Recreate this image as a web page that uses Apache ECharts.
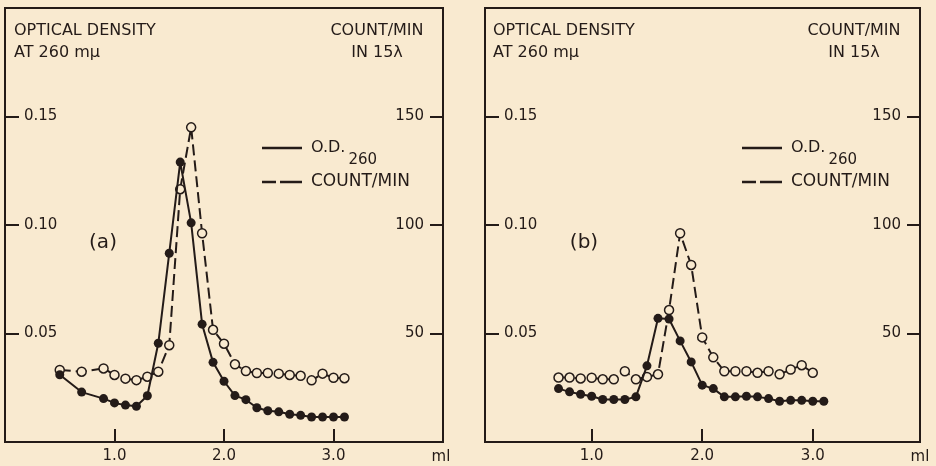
<!DOCTYPE html>
<html>
<head>
<meta charset="utf-8">
<script src="https://cdn.jsdelivr.net/npm/echarts@6/dist/echarts.min.js"></script>
<style>
  html, body { margin: 0; padding: 0; background: #f9ead0; }
  #chart { width: 936px; height: 466px; }
</style>
</head>
<body>
<div id="chart"></div>
<script>
// volume eluted (ml)
const mlA = [0.5, 0.7, 0.9, 1.0, 1.1, 1.2, 1.3, 1.4, 1.5, 1.6, 1.7, 1.8, 1.9, 2.0, 2.1, 2.2, 2.3, 2.4, 2.5, 2.6, 2.7, 2.8, 2.9, 3.0, 3.1];
const mlB = [0.7, 0.8, 0.9, 1.0, 1.1, 1.2, 1.3, 1.4, 1.5, 1.6, 1.7, 1.8, 1.9, 2.0, 2.1, 2.2, 2.3, 2.4, 2.5, 2.6, 2.7, 2.8, 2.9, 3.0, 3.1];

// panel (a)
const odA = [0.031, 0.023, 0.020, 0.018, 0.017, 0.0165, 0.0213, 0.0455, 0.087, 0.129, 0.101, 0.0543, 0.0367, 0.028, 0.0214, 0.0195, 0.0158, 0.0144, 0.0139, 0.0128, 0.0123, 0.0115, 0.0115, 0.0115, 0.0115];
const cpmA = [33.2, 32.4, 33.9, 30.9, 29.2, 28.5, 30.1, 32.4, 44.6, 116.5, 145, 96.2, 51.7, 45.3, 35.8, 32.7, 31.8, 31.8, 31.5, 30.9, 30.5, 28.4, 31.5, 29.6, 29.4];

// panel (b)  (count/min stops at 3.0 ml)
const odB = [0.0246, 0.0231, 0.0220, 0.0211, 0.0196, 0.0196, 0.0196, 0.0208, 0.0351, 0.0570, 0.0567, 0.0466, 0.0369, 0.0262, 0.0246, 0.0208, 0.0208, 0.0211, 0.0208, 0.0200, 0.0188, 0.0192, 0.0192, 0.0188, 0.0188];
const cpmB = [29.7, 29.7, 29.3, 29.6, 28.9, 28.9, 32.6, 28.9, 30.0, 31.2, 60.8, 96.2, 81.6, 48.2, 39.0, 32.6, 32.6, 32.6, 31.9, 32.6, 31.2, 33.4, 35.4, 31.9];

const xTicks = [1, 2, 3];
const odTicks = [0.05, 0.1, 0.15];
const cpmTicks = [50, 100, 150];

const ink = '#241b18';
const paper = '#f9ead0';
const font = 'DejaVu Sans';

const pairs = (xs, ys) => ys.map((y, i) => [xs[i], y]);

let chart = echarts.init(document.getElementById('chart'));

const xAxisFor = (gi, min, max) => ({
  type: 'value',
  gridIndex: gi,
  min: min,
  max: max,
  axisLine: { show: false },
  splitLine: { show: false },
  axisTick: { show: true, inside: true, length: 13, customValues: xTicks, lineStyle: { color: ink, width: 2 } },
  axisLabel: {
    customValues: xTicks,
    formatter: (v) => v.toFixed(1),
    color: ink, fontSize: 15, fontFamily: font, margin: 7
  }
});

const yAxisFor = (gi, right) => ({
  type: 'value',
  gridIndex: gi,
  position: right ? 'right' : 'left',
  min: 0,
  max: right ? 200 : 0.2,
  axisLine: { show: false },
  splitLine: { show: false },
  axisTick: { show: true, inside: true, length: right ? 13 : 14, customValues: right ? cpmTicks : odTicks, lineStyle: { color: ink, width: 2 } },
  axisLabel: {
    inside: true,
    margin: 19,
    customValues: right ? cpmTicks : odTicks,
    formatter: (v) => right ? String(v) : v.toFixed(2),
    color: ink, fontSize: 15, fontFamily: font
  }
});

const odSeries = (xi, yi, data) => ({
  name: 'O.D.',
  type: 'line',
  xAxisIndex: xi,
  yAxisIndex: yi,
  data: data,
  symbol: 'circle',
  symbolSize: 9,
  lineStyle: { color: ink, width: 2 },
  itemStyle: { color: ink },
  z: 3
});

const cpmSeries = (xi, yi, data) => ({
  name: 'COUNT/MIN',
  type: 'line',
  xAxisIndex: xi,
  yAxisIndex: yi,
  data: data,
  symbol: 'circle',
  symbolSize: 9,
  lineStyle: { color: ink, width: 2, type: [11, 5] },
  itemStyle: { color: paper, borderColor: ink, borderWidth: 1.5 },
  z: 2
});

const legendFor = (left, top, name, icon) => ({
  left: left,
  top: top,
  padding: 0,
  selectedMode: false,
  itemWidth: 40,
  itemHeight: 2.5,
  data: [{ name: name, icon: icon, itemStyle: { color: ink, borderWidth: 0 } }],
  formatter: (n) => n === 'O.D.' ? '{a|O.D.}{s|260}' : n,
  textStyle: {
    color: ink, fontSize: 17, fontFamily: font, lineHeight: 20, padding: [0, 0, 0, 4],
    rich: {
      a: { fontSize: 16, fontFamily: font, color: ink, lineHeight: 40, verticalAlign: 'middle' },
      s: { fontSize: 15, fontFamily: font, color: ink, lineHeight: 20, verticalAlign: 'bottom', padding: [0, 0, 0, 3] }
    }
  }
});

const solidIcon = 'rect';
const dashIcon = 'path://M0,0h14v2.5h-14z M18,0h22v2.5h-22z';

const label = (x, y, text, size, align) => ({
  type: 'text',
  x: x,
  y: y,
  style: { text: text, fill: ink, fontSize: size, fontFamily: font, align: align || 'left', verticalAlign: 'middle' }
});

chart.setOption({
  backgroundColor: paper,
  animation: false,
  grid: [
    { left: 5, top: 8, width: 438, height: 434, show: true, borderColor: ink, borderWidth: 2 },
    { left: 485, top: 8, width: 435, height: 434, show: true, borderColor: ink, borderWidth: 2 }
  ],
  xAxis: [xAxisFor(0, 0, 4), xAxisFor(1, 0.035, 3.97)],
  yAxis: [yAxisFor(0, false), yAxisFor(0, true), yAxisFor(1, false), yAxisFor(1, true)],
  legend: [
    legendFor(262, 128, 'O.D.', solidIcon),
    legendFor(262, 172, 'COUNT/MIN', dashIcon),
    legendFor(742, 128, 'O.D.', solidIcon),
    legendFor(742, 172, 'COUNT/MIN', dashIcon)
  ],
  graphic: [
    label(14, 31, 'OPTICAL DENSITY', 16),
    label(14, 53, 'AT 260 mμ', 16),
    label(377, 31, 'COUNT/MIN', 16, 'center'),
    label(377, 53, 'IN 15λ', 16, 'center'),
    label(103, 243, '(a)', 20, 'center'),
    label(441, 457, 'ml', 15, 'center'),
    label(493, 31, 'OPTICAL DENSITY', 16),
    label(493, 53, 'AT 260 mμ', 16),
    label(854, 31, 'COUNT/MIN', 16, 'center'),
    label(854, 53, 'IN 15λ', 16, 'center'),
    label(584, 243, '(b)', 20, 'center'),
    label(920, 457, 'ml', 15, 'center')
  ],
  series: [
    cpmSeries(0, 1, pairs(mlA, cpmA)),
    odSeries(0, 0, pairs(mlA, odA)),
    cpmSeries(1, 3, pairs(mlB, cpmB)),
    odSeries(1, 2, pairs(mlB, odB))
  ]
});

window.onresize = function () {
  chart.resize();
};
</script>
</body>
</html>
